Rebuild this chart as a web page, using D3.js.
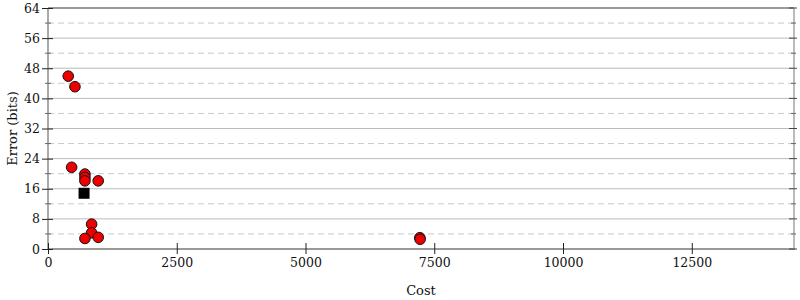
<!DOCTYPE html>
<html><head><meta charset="utf-8">
<script src="https://cdn.jsdelivr.net/npm/d3@7"></script>
<style>body{margin:0;background:#fff}svg{display:block;font-family:"DejaVu Serif",serif}</style>
</head><body><svg id="c" width="800" height="300"></svg>
<script>
const costs  = [393, 523, 459, 717, 717, 717, 975, 847, 847, 717, 975, 7220, 7225];
const errors = [45.9, 43.1, 21.7, 19.9, 19.0, 18.1, 18.1, 6.6, 4.3, 2.8, 3.1, 3.0, 2.6];
const bestCost = [700];
const bestError = [14.8];
const xTicks = [0, 2500, 5000, 7500, 10000, 12500];
const yMajor = [0, 8, 16, 24, 32, 40, 48, 56, 64];
const yMinor = [4, 12, 20, 28, 36, 44, 52, 60];

const svg = d3.select("#c");
const L = 48, R = 794, T = 8, B = 249;
const x = d3.scaleLinear().domain([0, 14485]).range([L, R]);
const y = d3.scaleLinear().domain([0, 64]).range([B, T]);
const FF = "DejaVu Serif";

// grid
svg.append("g").selectAll("line").data(yMinor).join("line")
  .attr("x1", L).attr("x2", R).attr("y1", d => y(d)).attr("y2", d => y(d))
  .attr("stroke", "#c8c8c8").attr("stroke-dasharray", "6,4");
svg.append("g").selectAll("line").data(yMajor.filter(d => d > 0 && d < 64)).join("line")
  .attr("x1", L).attr("x2", R).attr("y1", d => y(d)).attr("y2", d => y(d))
  .attr("stroke", "#bbbbbb");

// frame lines
svg.append("line").attr("x1", L).attr("x2", R).attr("y1", y(64)).attr("y2", y(64)).attr("stroke", "#999").attr("stroke-width", 2);
svg.append("line").attr("x1", R).attr("x2", R).attr("y1", T).attr("y2", B).attr("stroke", "#bbb").attr("stroke-width", 2);
svg.append("line").attr("x1", L).attr("x2", L).attr("y1", T).attr("y2", B).attr("stroke", "#aaa").attr("stroke-width", 2);
svg.append("line").attr("x1", L).attr("x2", R + 1).attr("y1", B).attr("y2", B).attr("stroke", "#999").attr("stroke-width", 2);

// y axis left
const yAx = d3.axisLeft(y).tickValues(yMajor).tickSize(6).tickPadding(2).tickFormat(d3.format("d"));
const gy = svg.append("g").attr("transform", `translate(${L},0)`).call(yAx);
gy.select(".domain").remove();
gy.selectAll(".tick line").attr("x2", -6).attr("x1", 5).attr("stroke", "#222");
gy.selectAll(".tick text").attr("font-size", 12.5).attr("fill", "#111").attr("font-family", FF);
svg.append("g").selectAll("line").data(yMinor).join("line")
  .attr("x1", L - 3).attr("x2", L + 3).attr("y1", d => y(d)).attr("y2", d => y(d)).attr("stroke", "#666");

// right ticks
svg.append("g").selectAll("line").data(yMajor).join("line")
  .attr("x1", R - 5).attr("x2", R + 3).attr("y1", d => y(d)).attr("y2", d => y(d)).attr("stroke", "#444");
svg.append("g").selectAll("line").data(yMinor).join("line")
  .attr("x1", R - 3).attr("x2", R + 2).attr("y1", d => y(d)).attr("y2", d => y(d)).attr("stroke", "#666");

// x axis
const xAx = d3.axisBottom(x).tickValues(xTicks).tickSize(5).tickPadding(4).tickFormat(d3.format("d"));
const gx = svg.append("g").attr("transform", `translate(0,${B})`).call(xAx);
gx.select(".domain").remove();
gx.selectAll(".tick line").attr("y1", -6).attr("y2", 5).attr("stroke", "#222");
gx.selectAll(".tick text").attr("font-size", 12.5).attr("fill", "#111").attr("font-family", FF);

// labels
svg.append("text").attr("x", (L + R) / 2).attr("y", 295).attr("text-anchor", "middle")
  .attr("font-size", 13).attr("font-family", FF).attr("fill", "#111").text("Cost");
svg.append("text").attr("transform", `translate(17,${(T + B) / 2}) rotate(-90)`).attr("text-anchor", "middle")
  .attr("font-size", 13).attr("font-family", FF).attr("fill", "#111").text("Error (bits)");

// points
const pts = costs.map((c, i) => ({c, e: errors[i]}));
svg.append("g").selectAll("circle").data(pts).join("circle")
  .attr("cx", d => x(d.c)).attr("cy", d => y(d.e)).attr("r", 5.3)
  .attr("fill", "#ee0000").attr("stroke", "#111").attr("stroke-width", 1);
const sq = 11;
svg.append("g").selectAll("rect").data(bestCost).join("rect")
  .attr("x", (d) => x(d) - sq / 2).attr("y", (d, i) => y(bestError[i]) - sq / 2)
  .attr("width", sq).attr("height", sq).attr("fill", "#000");
</script></body></html>
